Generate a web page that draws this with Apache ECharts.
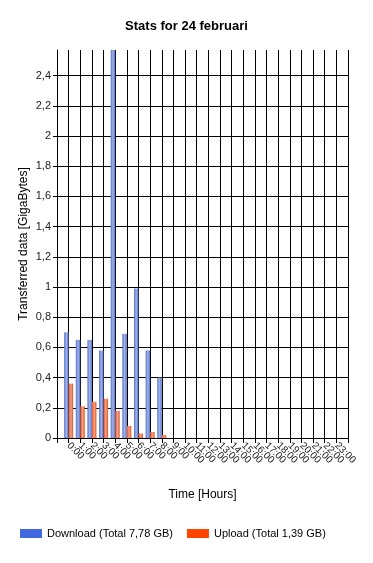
<!DOCTYPE html>
<html>
<head>
<meta charset="utf-8">
<script src="https://cdn.jsdelivr.net/npm/echarts@6/dist/echarts.min.js"></script>
<style>html,body{margin:0;padding:0;background:#fff;}#c{width:373px;height:563px;}</style>
</head>
<body>
<div id="c"></div>
<script>
const hours = ['0:00','1:00','2:00','3:00','4:00','5:00','6:00','7:00','8:00','9:00','10:00','11:00','12:00','13:00','14:00','15:00','16:00','17:00','18:00','19:00','20:00','21:00','22:00','23:00'];
const download = [0.70,0.65,0.65,0.58,2.57,0.69,0.99,0.58,0.40,0,0,0,0,0,0,0,0,0,0,0,0,0,0,0];
const upload = [0.36,0.21,0.24,0.26,0.18,0.08,0.03,0.04,0.02,0,0,0,0,0,0,0,0,0,0,0,0,0,0,0];
const yTickLabels = ['0','0,2','0,4','0,6','0,8','1','1,2','1,4','1,6','1,8','2','2,2','2,4'];
const titleText = 'Stats for 24 februari';
const downloadName = 'Download (Total 7,78 GB)';
const uploadName = 'Upload (Total 1,39 GB)';

const chart = echarts.init(document.getElementById('c'), null, {renderer:'canvas'});
const yMax = Math.max(...download);
const splitColors = yTickLabels.map(() => '#000').concat(['rgba(0,0,0,0)']);
const font = 'Liberation Sans, Arial, sans-serif';

function grad(a, b) {
  return new echarts.graphic.LinearGradient(0, 0, 1, 0, [
    {offset: 0, color: a}, {offset: 0.5, color: b}, {offset: 1, color: a}
  ]);
}

chart.setOption({
  animation: false,
  textStyle: {fontFamily: font},
  title: {
    text: titleText, left: 'center', top: 15,
    textStyle: {fontSize: 13, fontWeight: 'bold', color: '#000', fontFamily: font}
  },
  legend: {
    bottom: 19, left: 15, itemGap: 14, itemWidth: 22, itemHeight: 9, icon: 'rect',
    textStyle: {fontSize: 11, color: '#000', fontFamily: font},
    data: [
      {name: downloadName, itemStyle: {color: '#4169E1'}},
      {name: uploadName, itemStyle: {color: '#FF4500'}}
    ]
  },
  grid: {left: 57, right: 25, top: 50, bottom: 125},
  xAxis: {
    type: 'value', min: -1, max: 24, interval: 1,
    name: 'Time [Hours]', nameLocation: 'middle', nameGap: 51, nameMoveOverlap: false,
    nameTextStyle: {fontSize: 12, color: '#000', fontFamily: font},
    axisLine: {lineStyle: {color: '#000', width: 1}},
    axisTick: {length: 5, lineStyle: {color: '#000'}},
    splitLine: {show: true, lineStyle: {color: '#000', width: 1}},
    axisLabel: {
      rotate: -45, fontSize: 10, color: '#222', margin: 6, fontFamily: font,
      formatter: v => (v >= 0 && v < hours.length) ? hours[v] : ''
    }
  },
  yAxis: {
    type: 'value', min: 0, max: yMax, interval: 0.2,
    name: 'Transferred data [GigaBytes]', nameLocation: 'middle', nameGap: 27, nameMoveOverlap: false,
    nameTextStyle: {fontSize: 12, color: '#000', fontFamily: font},
    axisLine: {show: true, onZero: false, lineStyle: {color: '#000', width: 1}},
    axisTick: {show: true, length: 4, lineStyle: {color: '#000'}},
    splitLine: {show: true, lineStyle: {color: splitColors, width: 1}},
    axisLabel: {
      fontSize: 11, color: '#222', margin: 6, showMaxLabel: false, fontFamily: font,
      formatter: v => { const i = Math.round(v / 0.2); return Math.abs(v - i * 0.2) < 1e-6 ? yTickLabels[i] : ''; }
    }
  },
  series: [
    {
      name: downloadName, type: 'bar', barWidth: 4.5, barGap: '0%',
      itemStyle: {color: grad('#5470c8', '#a2b4ea')},
      data: download.map((v, i) => [i, v])
    },
    {
      name: uploadName, type: 'bar', barWidth: 4.5, barGap: '0%',
      itemStyle: {color: grad('#d9552e', '#f7a184')},
      data: upload.map((v, i) => [i, v])
    }
  ]
});
</script>
</body>
</html>
